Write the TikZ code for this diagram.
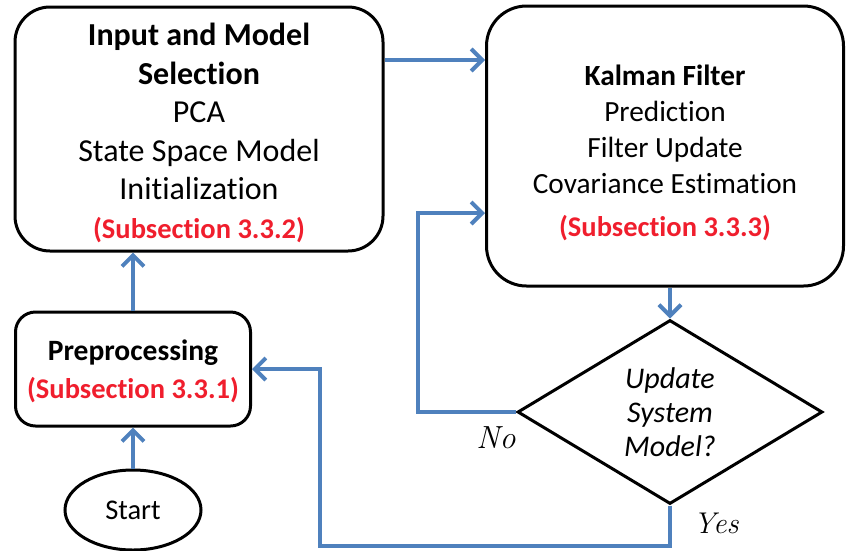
\documentclass[tikz,border=0pt]{standalone}
\usepackage{fontspec}
\setmainfont{Carlito}[Ligatures=NoCommon]
\newfontfamily\lmr{Latin Modern Roman}
\usetikzlibrary{arrows.meta,shapes.geometric}
\definecolor{fblue}{RGB}{79,129,189}
\definecolor{fred}{RGB}{240,30,45}
\tikzset{
  box/.style={draw, line width=3pt, inner sep=0pt, fill=white},
  txt/.style={align=center, inner sep=0pt},
  conn/.style={draw=fblue, line width=4pt},
  arr/.style={conn, -{Straight Barb[length=11pt,width=22pt]}}
}
\newcommand{\subsec}[1]{{\fontsize{28.5}{36}\selectfont\bfseries\color{fred}(Subsection #1)}}
\begin{document}
\begin{tikzpicture}[x=1pt,y=-1pt]
\path[use as bounding box] (0,0) rectangle (846,550);
% boxes
\node[box, rounded corners=35pt, minimum width=368pt, minimum height=244pt] (b1) at (199,129) {};
\node[box, rounded corners=40pt, minimum width=357pt, minimum height=280pt] (kf) at (665,146) {};
\node[box, rounded corners=20pt, minimum width=235pt, minimum height=114pt] (pre) at (133,369) {};
\node[draw, ellipse, line width=3pt, minimum width=136pt, minimum height=80pt, inner sep=0pt] (start) at (133,510) {};
\node[draw, diamond, line width=3pt, minimum width=305pt, minimum height=184pt, inner sep=0pt, aspect=1.66] (dia) at (670,412) {};
% texts
\node[txt, font=\fontsize{32}{38.5}\selectfont] (t1) at (199,133)
  {\textbf{Input and Model}\\\textbf{Selection}\\PCA\\State Space Model\\Initialization\\\subsec{3.3.2}};
\node[txt, font=\fontsize{29.3}{36}\selectfont] (t2) at (665,153)
  {\textbf{Kalman Filter}\\Prediction\\Filter Update\\Covariance Estimation\\[7pt]\subsec{3.3.3}};
\node[txt, font=\fontsize{29.5}{38}\selectfont] (t3) at (133,371)
  {\textbf{Preprocessing}\\\subsec{3.3.1}};
\node[txt, font=\fontsize{28.5}{34}\selectfont] (t4) at (133,510) {Start};
\node[txt, font=\fontsize{30}{34}\selectfont\itshape] (t5) at (670,412) {Update\\System\\Model?};
\node[txt, font=\fontsize{32}{34}\selectfont\lmr\itshape] (no) at (496,438) {No};
\node[txt, font=\fontsize{30}{34}\selectfont\lmr\itshape] (yes) at (716,523) {Yes};
% connectors
\coordinate (r1) at (0,60);
\coordinate (nc) at (418,213);
\coordinate (yc) at (320,546);
\draw[arr] (start.north) -- (pre.south);
\draw[arr] (pre.north) -- (pre.north |- b1.south);
\draw[arr] (b1.east |- r1) -- (kf.west |- r1);
\draw[arr] (dia.north |- kf.south) -- (dia.north);
\draw[arr] (dia.west) -| (nc) -- (kf.west |- nc);
\draw[arr] (dia.south) |- (yc) |- (pre.east);
\end{tikzpicture}
\end{document}
